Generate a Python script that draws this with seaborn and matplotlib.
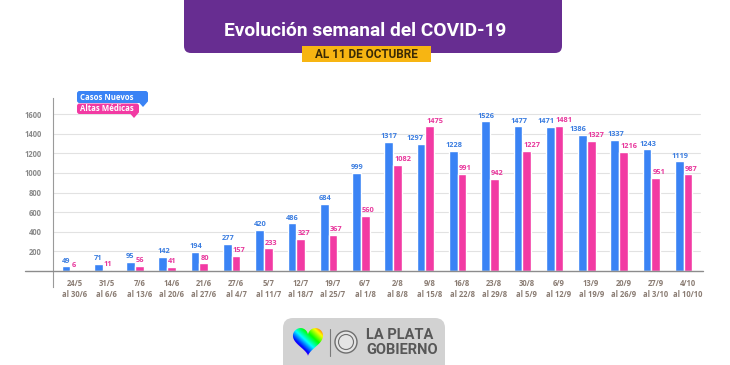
import numpy as np
import pandas as pd
import matplotlib
matplotlib.use("Agg")
import matplotlib.pyplot as plt
import seaborn as sns
from matplotlib.patches import FancyBboxPatch, Polygon, Circle

# Datos semanales
semanas = ["24/5\nal 30/6", "31/5\nal 6/6", "7/6\nal 13/6", "14/6\nal 20/6", "21/6\nal 27/6",
           "27/6\nal 4/7", "5/7\nal 11/7", "12/7\nal 18/7", "19/7\nal 25/7", "6/7\nal 1/8",
           "2/8\nal 8/8", "9/8\nal 15/8", "16/8\nal 22/8", "23/8\nal 29/8", "30/8\nal 5/9",
           "6/9\nal 12/9", "13/9\nal 19/9", "20/9\nal 26/9", "27/9\nal 3/10", "4/10\nal 10/10"]
casos_nuevos = [49, 71, 95, 142, 194, 277, 420, 486, 684, 999,
                1317, 1297, 1228, 1526, 1477, 1471, 1386, 1337, 1243, 1119]
altas_medicas = [6, 11, 56, 41, 80, 157, 233, 327, 367, 560,
                 1082, 1475, 991, 942, 1227, 1481, 1327, 1216, 951, 987]
y_ticks = [0, 200, 400, 600, 800, 1000, 1200, 1400, 1600]

AZUL = "#3a83f5"
ROSA = "#f23aa3"

df = pd.DataFrame({
    "semana": semanas * 2,
    "valor": casos_nuevos + altas_medicas,
    "tipo": ["Casos Nuevos"] * len(semanas) + ["Altas Médicas"] * len(semanas),
})

sns.set_style("white")
plt.rcParams["font.family"] = ["Open Sans", "DejaVu Sans"]

W, H = 730, 365
fig = plt.figure(figsize=(W / 100, H / 100), dpi=100)
fig.patch.set_facecolor("white")

ax = fig.add_axes([52.7 / W, 1 - 287 / H, 650.3 / W, 189 / H])
bar_w = 0.54
sns.barplot(data=df, x="semana", y="valor", hue="tipo", palette=[AZUL, ROSA],
            width=bar_w, gap=0, dodge=True, legend=False, ax=ax, saturation=1)

ax.set_xlim(-0.545, 19.6)
ax.set_ylim(-163, 1765)
ax.set_xlabel("")
ax.set_ylabel("")

# grilla y ejes
for v in y_ticks[1:]:
    ax.axhline(v, color="#e2e2e2", lw=0.8, zorder=0, xmax=0.995)
ax.axhline(0, xmin=-0.043, xmax=1.0, color="#8c8c8c", lw=1.0, clip_on=False, zorder=3)

for s in ["top", "right"]:
    ax.spines[s].set_visible(False)
ax.spines["bottom"].set_position(("data", 0))
ax.spines["bottom"].set_visible(False)
ax.spines["left"].set_color("#9a9a9a")
ax.spines["left"].set_linewidth(0.8)

ax.set_yticks(y_ticks[1:])
ax.set_yticklabels([str(v) for v in y_ticks[1:]])
ax.tick_params(axis="y", direction="out", length=3, width=0.7, color="#9a9a9a",
               labelsize=5.5, labelcolor="#8a8a8a", pad=5)
for t in ax.get_yticklabels():
    t.set_fontweight("bold")

xpos = np.arange(len(semanas)) + bar_w / 4
ax.set_xticks(xpos)
ax.set_xticklabels(semanas, linespacing=1.2)
ax.tick_params(axis="x", direction="inout", length=6, width=0.8, color="#7a7a7a",
               labelsize=5.5, labelcolor="#8b7d74", pad=3)
for t in ax.get_xticklabels():
    t.set_fontweight("bold")

# etiquetas de valores
azul_txt, rosa_txt = [], []
for bar in ax.containers[0]:
    h = bar.get_height()
    azul_txt.append(ax.annotate(f"{h:.0f}", (bar.get_x() + bar.get_width() / 2, h), xytext=(0.5, 1.2),
                                textcoords="offset points", ha="center", va="bottom", zorder=5,
                                fontsize=5.3, fontweight="bold", color="#3b7de0"))
for bar in ax.containers[1]:
    h = bar.get_height()
    rosa_txt.append(ax.annotate(f"{h:.0f}", (bar.get_x(), h), xytext=(0.8, 1.2),
                                textcoords="offset points", ha="left", va="bottom", zorder=5,
                                fontsize=5.3, fontweight="bold", color="#e8379c"))

# correr a la izquierda las etiquetas azules que pisan a la barra o etiqueta rosa
fig.canvas.draw()
r = fig.canvas.get_renderer()
for a, b, pbar in zip(azul_txt, rosa_txt, ax.containers[1]):
    ab = a.get_window_extent(r)
    dx = 0
    for bb in (b.get_window_extent(r), pbar.get_window_extent(r)):
        if ab.x1 > bb.x0 - 1 and ab.y0 < bb.y1 and bb.y0 < ab.y1:
            dx = max(dx, ab.x1 - bb.x0 + 1.5)
    if dx:
        a.xyann = (a.xyann[0] - dx * 72 / 100, a.xyann[1])

# leyenda tipo globo
def globo(x0, y0, w, h, color, texto, px):
    fig.patches.append(FancyBboxPatch((x0, y0), w, h, boxstyle="round,pad=0,rounding_size=2.5",
                                      transform=None, facecolor=color, edgecolor="none", zorder=5))
    fig.patches.append(Polygon([[px - 4, y0 + 0.5], [px + 4, y0 + 0.5], [px, y0 - 4]], closed=True,
                               transform=None, facecolor=color, edgecolor="none", zorder=5))
    fig.text((x0 + 3) / W, (y0 + h / 2) / H, texto, color="white", fontsize=5.6,
             fontweight="bold", va="center", ha="left", zorder=6)

globo(77, 262, 71, 12, AZUL, "Casos Nuevos", 143)
globo(77, 251, 62, 10.5, ROSA, "Altas Médicas", 134)

# encabezado
fig.patches.append(FancyBboxPatch((184, 312), 378, 70, boxstyle="round,pad=0,rounding_size=7",
                                  transform=None, facecolor="#672d91", edgecolor="none"))
fig.text(365 / W, 334 / H, "Evolución semanal del COVID-19", color="white", fontsize=13.8,
         fontweight="bold", ha="center", va="center", family=["Roboto", "DejaVu Sans"])
fig.patches.append(FancyBboxPatch((302, 303), 129, 16, boxstyle="square,pad=0",
                                  transform=None, facecolor="#f7b512", edgecolor="none"))
fig.text(366.5 / W, 310.5 / H, "AL 11 DE OCTUBRE", color="#3a2a05", fontsize=8.5,
         fontweight="bold", ha="center", va="center", family=["Roboto", "DejaVu Sans"])

# logo
fig.patches.append(FancyBboxPatch((283, -10), 162, 57, boxstyle="round,pad=0,rounding_size=10",
                                  transform=None, facecolor="#d2d2d2", edgecolor="none"))
t = np.linspace(0, 2 * np.pi, 120)
hx = 16 * np.sin(t) ** 3
hy = 13 * np.cos(t) - 5 * np.cos(2 * t) - 2 * np.cos(3 * t) - np.cos(4 * t)
hax = fig.add_axes([292 / W, 8 / H, 32 / W, 30 / H])
hax.set_zorder(10)
hax.set_axis_off()
grad = np.add.outer(np.linspace(0, 1, 50), np.linspace(0, 1, 50)) / 2
im = hax.imshow(grad, cmap="hsv_r", extent=(-17, 17, -18, 13), origin="lower", aspect="auto")
clip = Polygon(np.column_stack([hx, hy]), closed=True, transform=hax.transData)
im.set_clip_path(clip)
hax.set_xlim(-17, 17)
hax.set_ylim(-18, 13)

fig.lines.append(plt.Line2D([330 / W, 330 / W], [9 / H, 36 / H], color="#7a7a7a", lw=0.8,
                            transform=fig.transFigure))
fig.patches.append(Circle((346, 23), 11, transform=None, facecolor="#e4e4e4",
                          edgecolor="#6e6e6e", lw=1.0))
fig.patches.append(Circle((346, 23), 7.5, transform=None, facecolor="none",
                          edgecolor="#6e6e6e", lw=0.8))
fig.text(366 / W, 30 / H, "LA PLATA", color="#575757", fontsize=10.5, fontweight="bold",
         ha="left", va="center", family=["Roboto", "DejaVu Sans"])
fig.text(366 / W, 15.5 / H, "GOBIERNO", color="#575757", fontsize=10.5, fontweight="bold",
         ha="left", va="center", family=["Roboto", "DejaVu Sans"])

fig.savefig("out.png", dpi=100)
